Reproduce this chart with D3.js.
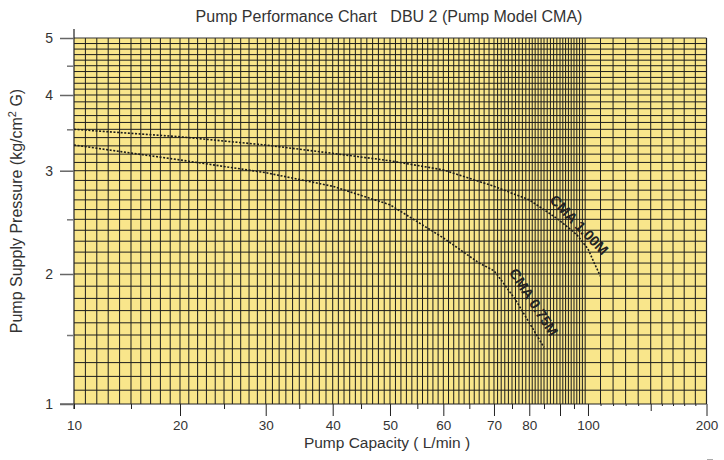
<!DOCTYPE html>
<html><head><meta charset="utf-8">
<script src="https://cdn.jsdelivr.net/npm/d3@7/dist/d3.min.js"></script>
<style>
body{margin:0;background:#fff;}
svg text{font-family:"Liberation Sans", Arial, Helvetica, sans-serif;}
</style>
</head><body>
<svg id="c" width="724" height="460"></svg>
<script>
// ---- data ----
const title = "Pump Performance Chart\u00a0\u00a0 DBU 2 (Pump Model CMA)";
const xTitle = "Pump Capacity ( L/min )";
const yTitleMain = "Pump Supply Pressure (kg/cm";
const yTitleSup = "2";
const yTitleEnd = " G)";

const xTickLabels = [10, 20, 30, 40, 50, 60, 70, 80, 100, 200];
const xMidTicks = [90, 150];
const xMinorTicks = [15, 25, 35, 45, 55, 65, 75, 85, 95, 110, 120, 130, 140, 160, 170, 180, 190];
const yTickLabels = [1, 2, 3, 4, 5];
const yMinorTicks = [1.5, 2.5, 3.5, 4.5];

// printed chart paper uses a non-uniform scale: calibration value -> fraction of axis length
const xCalValues = [10, 15, 20, 25, 30, 35, 40, 45, 50, 55, 60, 65, 70, 75, 80, 85, 90, 95, 100, 150, 200];
const xCalFrac   = [0, 0.0901, 0.1676, 0.2372, 0.3031, 0.3562, 0.4090, 0.4538, 0.4996, 0.5428, 0.5839, 0.6250, 0.6640, 0.6925, 0.7198, 0.7431, 0.7684, 0.7905, 0.8126, 0.9118, 1];
const yCalValues = [1, 1.5, 2, 2.5, 3, 3.5, 4, 4.5, 5];
const yCalFrac   = [0, 0.1885, 0.3552, 0.5046, 0.6374, 0.7505, 0.8443, 0.9243, 1];

// curves
const cma100Name = "CMA 1.00M";
const cma100Q = [10, 20, 30, 40, 50, 60, 70, 80, 89, 96, 100, 105, 110];
const cma100P = [3.50, 3.41, 3.31, 3.21, 3.12, 3.01, 2.84, 2.70, 2.51, 2.36, 2.23, 2.10, 1.98];
const cma75Name = "CMA 0.75M";
const cma75Q = [10, 20, 30, 40, 50, 60, 67, 70, 72, 76, 85];
const cma75P = [3.31, 3.13, 2.98, 2.84, 2.65, 2.33, 2.10, 2.03, 1.95, 1.79, 1.41];
// label anchor (data coords) and angle
const cma100Label = {q: 96.8, p: 2.45, angle: 46};
const cma75Label = {q: 81.5, p: 1.77, angle: 57};

// ---- drawing ----
const svg = d3.select('#c');
const L = 74, R = 706.5, T = 38, B = 404;
const x = d3.scaleLinear().domain(xCalValues).range(xCalFrac.map(f => L + f * (R - L)));
const y = d3.scaleLinear().domain(yCalValues).range(yCalFrac.map(f => B - f * (B - T)));

svg.append('rect').attr('x', L).attr('y', T).attr('width', R - L).attr('height', B - T)
  .attr('fill', '#F9E68B');

const gridColor = '#1c1c1c';
const xGrid = d3.range(11, 100, 1).concat(d3.range(110, 200, 10));
svg.append('g').selectAll('line').data(xGrid).join('line')
  .attr('x1', d => x(d)).attr('x2', d => x(d)).attr('y1', T).attr('y2', B)
  .attr('stroke', gridColor).attr('stroke-width', 1);
const yGrid = d3.range(11, 50).map(d => d / 10);
svg.append('g').selectAll('line').data(yGrid).join('line')
  .attr('y1', d => y(d)).attr('y2', d => y(d)).attr('x1', L).attr('x2', R)
  .attr('stroke', gridColor).attr('stroke-width', 1);

// border
svg.append('line').attr('x1', L).attr('x2', R).attr('y1', T).attr('y2', T).attr('stroke', '#333').attr('stroke-width', 1.2);
svg.append('line').attr('x1', R).attr('x2', R).attr('y1', T).attr('y2', B).attr('stroke', '#222').attr('stroke-width', 1.2);
svg.append('line').attr('x1', L).attr('x2', L).attr('y1', 29).attr('y2', 409).attr('stroke', '#222').attr('stroke-width', 1.2);
svg.append('line').attr('x1', 60).attr('x2', R).attr('y1', B).attr('y2', B).attr('stroke', '#222').attr('stroke-width', 1.2);

// x axis
const xAxisG = svg.append('g').attr('transform', `translate(0,${B})`)
  .call(d3.axisBottom(x).tickValues(xTickLabels).tickSize(12).tickFormat(d3.format('d')));
xAxisG.select('.domain').remove();
xAxisG.selectAll('.tick line').attr('stroke', '#222').attr('y2', d => d === 10 ? 5 : 12);
xAxisG.selectAll('.tick text').attr('font-size', 13.5).attr('fill', '#333')
  .attr('y', 25.5).attr('dy', 0);
const xMidG = svg.append('g').attr('transform', `translate(0,${B})`)
  .call(d3.axisBottom(x).tickValues(xMidTicks).tickSize(0).tickFormat(''));
xMidG.select('.domain').remove();
xMidG.selectAll('.tick line').attr('stroke', '#222').attr('y2', d => d === 90 ? 12 : 7);
const xMinG = svg.append('g').attr('transform', `translate(0,${B})`)
  .call(d3.axisBottom(x).tickValues(xMinorTicks).tickSize(0).tickFormat(''));
xMinG.select('.domain').remove();
xMinG.selectAll('.tick line').attr('stroke', '#222').attr('y2', d => d > 100 ? 2 : 5);

// y axis
const yAxisG = svg.append('g').attr('transform', `translate(${L},0)`)
  .call(d3.axisLeft(y).tickValues(yTickLabels).tickSize(14).tickFormat(d3.format('d')));
yAxisG.select('.domain').remove();
yAxisG.selectAll('.tick line').attr('stroke', '#666').attr('stroke-width', 1.5);
yAxisG.selectAll('.tick text').attr('font-size', 14).attr('fill', '#333').attr('x', -21);
const yMinG = svg.append('g').attr('transform', `translate(${L},0)`)
  .call(d3.axisLeft(y).tickValues(yMinorTicks).tickSize(7).tickFormat(''));
yMinG.select('.domain').remove();
yMinG.selectAll('.tick line').attr('stroke', '#777').attr('stroke-width', 1.5);

// curves
const line = d3.line().x(d => x(d[0])).y(d => y(d[1])).curve(d3.curveLinear);
function drawCurve(q, p) {
  svg.append('path').datum(q.map((v, i) => [v, p[i]]))
    .attr('d', line).attr('fill', 'none').attr('stroke', '#1a1a1a')
    .attr('stroke-width', 1.6).attr('stroke-dasharray', '2,1.6');
}
drawCurve(cma100Q, cma100P);
drawCurve(cma75Q, cma75P);

function drawLabel(txt, lab) {
  svg.append('text').attr('transform', `translate(${x(lab.q)},${y(lab.p)}) rotate(${lab.angle})`)
    .attr('text-anchor', 'middle').attr('dy', '0.35em')
    .attr('font-size', 14.5).attr('font-weight', 'bold').attr('fill', '#222').text(txt);
}
drawLabel(cma100Name, cma100Label);
drawLabel(cma75Name, cma75Label);

// titles
svg.append('text').attr('x', 389).attr('y', 22).attr('text-anchor', 'middle')
  .attr('font-size', 16).attr('fill', '#333').text(title);
svg.append('text').attr('x', 387).attr('y', 448).attr('text-anchor', 'middle')
  .attr('font-size', 15.5).attr('fill', '#333').text(xTitle);
const yt = svg.append('text').attr('transform', 'translate(22,211) rotate(-90)')
  .attr('text-anchor', 'middle').attr('font-size', 16).attr('fill', '#333');
yt.append('tspan').text(yTitleMain);
yt.append('tspan').attr('dy', -6).attr('font-size', 11).text(yTitleSup);
yt.append('tspan').attr('dy', 6).text(yTitleEnd);

// small mark at lower right
svg.append('line').attr('x1', 707).attr('x2', 713).attr('y1', 459.5).attr('y2', 459.5)
  .attr('stroke', '#aaa').attr('stroke-width', 1);
</script>
</body></html>
